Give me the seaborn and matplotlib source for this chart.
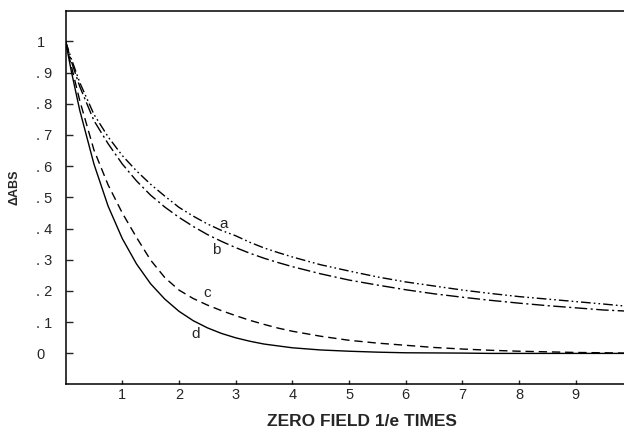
import numpy as np
import pandas as pd
import matplotlib
matplotlib.use("Agg")
import matplotlib.pyplot as plt
import seaborn as sns

# ---- data ----
t = [0, 0.1, 0.25, 0.5, 0.75, 1.0, 1.25, 1.5, 1.75, 2.0, 2.25, 2.5, 2.75, 3.0, 3.25, 3.5,
     3.75, 4.0, 4.5, 5.0, 5.5, 6.0, 6.5, 7.0, 7.5, 8.0, 8.5, 9.0, 9.5, 9.85]
curve_a = [1.0, 0.945, 0.868, 0.766, 0.694, 0.634, 0.585, 0.542, 0.504, 0.468, 0.440, 0.415,
           0.394, 0.377, 0.356, 0.338, 0.323, 0.309, 0.284, 0.264, 0.245, 0.229, 0.216, 0.203,
           0.192, 0.182, 0.174, 0.166, 0.158, 0.152]
curve_b = [1.0, 0.937, 0.855, 0.746, 0.672, 0.607, 0.553, 0.507, 0.469, 0.436, 0.407, 0.381,
           0.359, 0.339, 0.321, 0.305, 0.291, 0.278, 0.255, 0.235, 0.219, 0.204, 0.191, 0.180,
           0.170, 0.161, 0.153, 0.146, 0.139, 0.136]
curve_c = [1.0, 0.922, 0.810, 0.652, 0.540, 0.450, 0.372, 0.299, 0.243, 0.203, 0.176, 0.155,
           0.137, 0.121, 0.106, 0.093, 0.081, 0.071, 0.055, 0.042, 0.033, 0.026, 0.019, 0.014,
           0.010, 0.007, 0.005, 0.003, 0.002, 0.001]
curve_d = [1.0, 0.905, 0.779, 0.607, 0.472, 0.368, 0.287, 0.223, 0.174, 0.135, 0.105, 0.082,
           0.064, 0.050, 0.039, 0.030, 0.024, 0.018, 0.011, 0.007, 0.004, 0.002, 0.0015, 0.001,
           0.0, 0.0, 0.0, 0.0, 0.0, 0.0]
curve_names = ["a", "b", "c", "d"]
label_pos = {"a": (2.78, 0.416), "b": (2.66, 0.330), "c": (2.49, 0.194), "d": (2.30, 0.063)}
x_ticks = [1, 2, 3, 4, 5, 6, 7, 8, 9]
y_ticks = [0, 0.1, 0.2, 0.3, 0.4, 0.5, 0.6, 0.7, 0.8, 0.9, 1.0]
y_ticklabels = ["0", ". 1", ". 2", ". 3", ". 4", ". 5", ". 6", ". 7", ". 8", ". 9", "1"]
x_label = "ZERO FIELD 1/e TIMES"
y_label = "\u0394ABS"

sns.set_style("ticks")
plt.rcParams["font.family"] = ["Liberation Sans", "DejaVu Sans"]

fig = plt.figure(figsize=(6.24, 4.30), dpi=100)
ax = fig.add_axes([0.1051, 0.107, 0.8949, 0.868])

styles = {
    "a": (0, (7, 2.2, 1.2, 2.2, 1.2, 2.2)),
    "b": (0, (9, 2.5, 1.5, 2.5)),
    "c": (0, (6, 3.5)),
    "d": "-",
}
for name, vals in zip(curve_names, [curve_a, curve_b, curve_c, curve_d]):
    df = pd.DataFrame({"t": t, "v": vals})
    sns.lineplot(data=df, x="t", y="v", ax=ax, color="black", linewidth=1.0,
                 linestyle=styles[name], estimator=None, sort=False, errorbar=None)
    lx, ly = label_pos[name]
    ax.text(lx, ly, name, fontsize=11, ha="center", va="center")

ax.set_xlim(0, 9.85)
ax.set_ylim(-0.098, 1.098)
ax.set_xticks(x_ticks)
ax.set_xticklabels([str(v) for v in x_ticks], fontsize=10.5)
ax.set_yticks(y_ticks)
ax.set_yticklabels(y_ticklabels, fontsize=10.5)
for lab in ax.get_yticklabels():
    lab.set_horizontalalignment("left")
ax.tick_params(axis="y", direction="in", length=5, width=1.0, pad=21)
ax.tick_params(axis="x", direction="in", length=3, width=1.0, pad=3)

for side in ["left", "bottom", "top"]:
    ax.spines[side].set_visible(True)
    ax.spines[side].set_linewidth(1.1)
    ax.spines[side].set_color("black")
ax.spines["right"].set_visible(False)

ax.set_xlabel(x_label, fontsize=12.5, fontweight="bold")
ax.set_ylabel(y_label, fontsize=9, fontweight="bold")
ax.xaxis.set_label_coords(0.531, -0.081)
ax.yaxis.set_label_coords(-0.08, 0.526)

fig.savefig("out.png", dpi=100)
